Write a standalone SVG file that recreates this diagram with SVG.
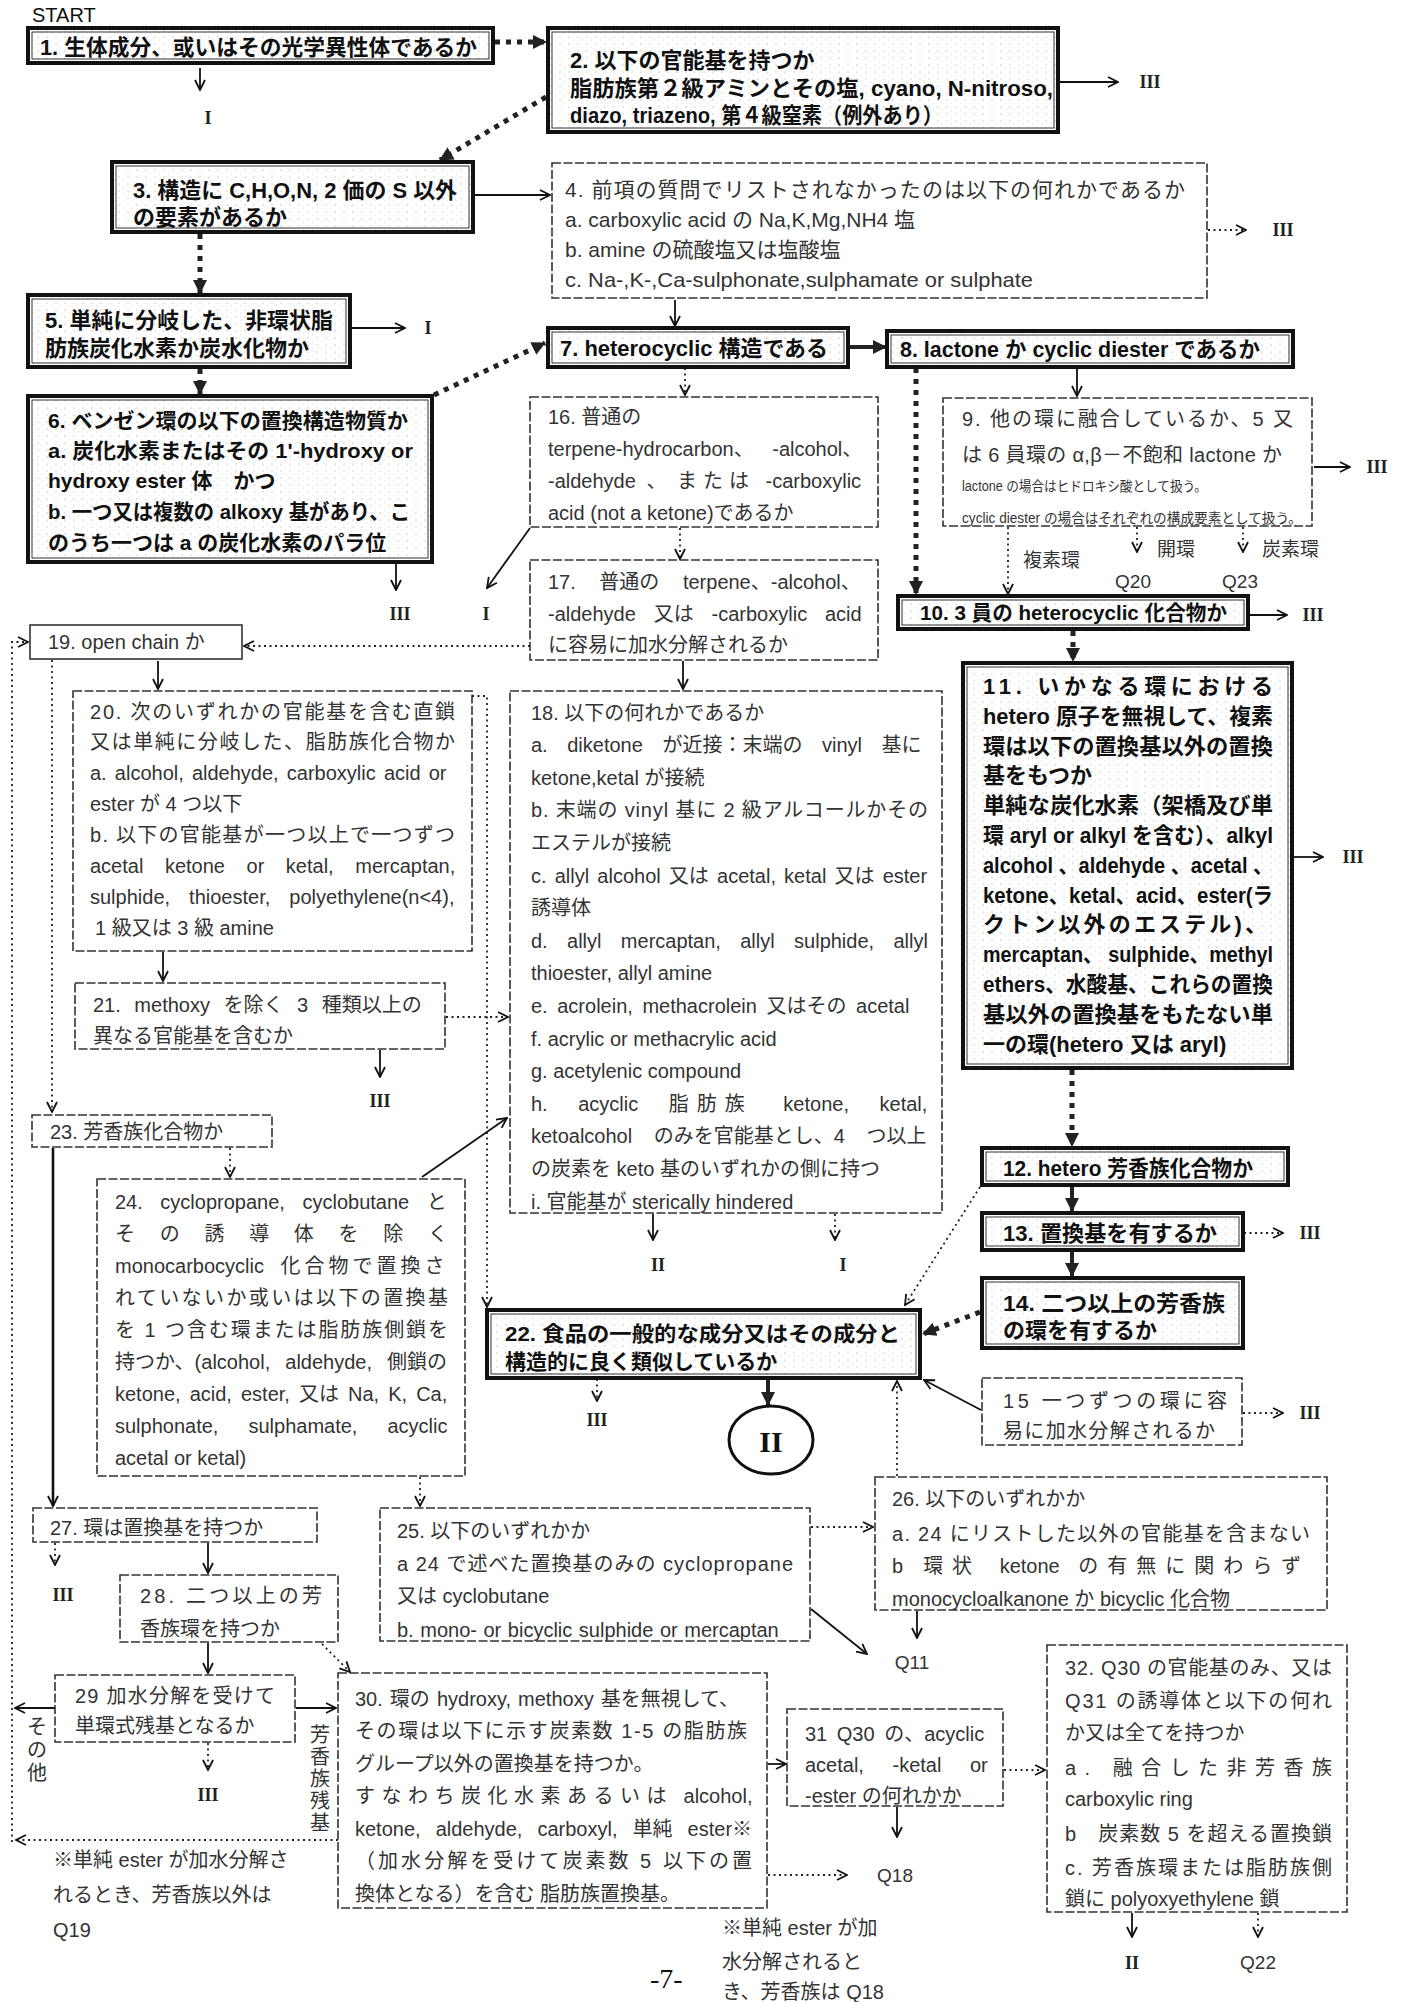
<svg xmlns="http://www.w3.org/2000/svg" width="1404" height="2002" viewBox="0 0 1404 2002">
<defs>
<pattern id="stip" width="9" height="7" patternUnits="userSpaceOnUse"><rect width="9" height="7" fill="#fff"/><circle cx="2" cy="2" r="0.55" fill="#999"/><circle cx="6.5" cy="5" r="0.45" fill="#bbb"/></pattern>
<marker id="ao" viewBox="0 0 12 12" refX="11" refY="6" markerWidth="12" markerHeight="12" orient="auto" markerUnits="userSpaceOnUse"><path d="M1,1 L11,6 L1,11" fill="none" stroke="#111" stroke-width="1.8"/></marker>
<marker id="at" viewBox="0 0 14 14" refX="13" refY="7" markerWidth="14" markerHeight="14" orient="auto" markerUnits="userSpaceOnUse"><path d="M0,0 L14,7 L0,14 z" fill="#222"/></marker>
</defs>
<style>
.k{fill:url(#stip);stroke:#111;stroke-width:4}
.ki{fill:none;stroke:#333;stroke-width:1}
.d{fill:#fff;stroke:#333;stroke-width:1.6;stroke-dasharray:9 2.5}
.tk{font-family:"Liberation Sans","Noto Sans CJK JP",sans-serif;font-size:22px;font-weight:bold;fill:#111}
.tn{font-family:"Liberation Sans","Noto Sans CJK JP",sans-serif;font-size:20px;fill:#333}
.ts{font-family:"Liberation Sans","Noto Sans CJK JP",sans-serif;font-size:14px;fill:#333}
.rn{font-family:"Liberation Serif","Noto Serif CJK JP",serif;font-size:18px;font-weight:bold;fill:#222;text-anchor:middle}
.lb{font-family:"Liberation Sans","Noto Sans CJK JP",sans-serif;font-size:19px;fill:#333}
.cs{fill:none;stroke:#111;stroke-width:1.8;marker-end:url(#ao)}
.cd{fill:none;stroke:#222;stroke-width:1.8;stroke-dasharray:2 3.5;marker-end:url(#ao)}
.ch{fill:none;stroke:#222;stroke-width:5;stroke-dasharray:5 6;marker-end:url(#at)}
.cH{fill:none;stroke:#222;stroke-width:4;marker-end:url(#at)}
</style>
<rect width="1404" height="2002" fill="#fff"/>

<text x="32" y="22" style="font-family:'Liberation Sans',sans-serif;font-size:20px;fill:#111">START</text>

<g id="connectors">
<path class="ch" d="M495,42 H546"/>
<path class="ch" d="M546,97 L440,160"/>
<path class="ch" d="M200,234 V293"/>
<path class="ch" d="M200,369 V394"/>
<path class="ch" d="M434,395 L545,343"/>
<path class="cH" d="M849,347 H886"/>
<path class="ch" d="M916,368 V594"/>
<path class="ch" d="M1073,631 V661"/>
<path class="ch" d="M1072,1070 V1146"/>
<path class="cH" d="M1072,1187 V1211"/>
<path class="cH" d="M1072,1252 V1276"/>
<path class="ch" d="M980,1312 L923,1334"/>
<path class="cH" d="M768,1380 V1405"/>

<path class="cs" d="M200,68 V90"/>
<path class="cs" d="M1060,82 H1118"/>
<path class="cs" d="M475,195 H550"/>
<path class="cs" d="M675,300 V326"/>
<path class="cs" d="M352,328 H405"/>
<path class="cs" d="M1077,369 V396"/>
<path class="cs" d="M1314,467 H1350"/>
<path class="cs" d="M1250,615 H1287"/>
<path class="cs" d="M1294,857 H1323"/>
<path class="cs" d="M396,564 V590"/>
<path class="cs" d="M530,528 L487,588"/>
<path class="cs" d="M683,661 V689"/>
<path class="cs" d="M158,661 V689"/>
<path class="cs" d="M163,952 V981"/>
<path class="cs" d="M380,1050 V1077"/>
<path class="cs" d="M422,1177 L507,1118"/>
<path class="cs" d="M653,1214 V1240"/>
<path class="cs" d="M53,1148 V1506" style="stroke-width:2.6"/>
<path class="cs" d="M208,1543 V1573"/>
<path class="cs" d="M208,1643 V1673"/>
<path class="cs" d="M55,1708 H15"/>
<path class="cs" d="M296,1708 H336"/>
<path class="cs" d="M811,1609 L867,1654"/>
<path class="cs" d="M917,1611 V1638"/>
<path class="cs" d="M768,1764 H786"/>
<path class="cs" d="M897,1807 V1837"/>
<path class="cs" d="M981,1410 L924,1380"/>
<path class="cs" d="M1132,1913 V1937"/>

<path class="cd" d="M1208,230 H1246"/>
<path class="cd" d="M685,368 V395"/>
<path class="cd" d="M1008,527 V594"/>
<path class="cd" d="M1137,527 V552"/>
<path class="cd" d="M1243,527 V552"/>
<path class="cd" d="M680,528 V559"/>
<path class="cd" d="M530,646 H244"/>
<path class="cd" d="M12,1842 V642 H28"/>
<path class="cd" d="M52,660 V1112"/>
<path class="cd" d="M472,696 H487 V1307"/>
<path class="cd" d="M446,1017 H508"/>
<path class="cd" d="M230,1148 V1177"/>
<path class="cd" d="M420,1477 V1506"/>
<path class="cd" d="M835,1214 V1240"/>
<path class="cd" d="M980,1187 L905,1305"/>
<path class="cd" d="M1244,1233 H1283"/>
<path class="cd" d="M1243,1413 H1283"/>
<path class="cd" d="M597,1379 V1401"/>
<path class="cd" d="M897,1476 V1381"/>
<path class="cd" d="M811,1527 H873"/>
<path class="cd" d="M55,1543 V1565"/>
<path class="cd" d="M322,1644 L350,1672"/>
<path class="cd" d="M208,1743 V1770"/>
<path class="cd" d="M338,1840 H16"/>
<path class="cd" d="M768,1875 H847"/>
<path class="cd" d="M1004,1770 H1045"/>
<path class="cd" d="M1258,1913 V1937"/>
</g>

<g id="labels">
<text class="rn" x="208" y="124">I</text>
<text class="rn" x="1150" y="88">III</text>
<text class="rn" x="1283" y="236">III</text>
<text class="rn" x="428" y="334">I</text>
<text class="rn" x="400" y="620">III</text>
<text class="rn" x="486" y="620">I</text>
<text class="rn" x="1377" y="473">III</text>
<text class="rn" x="1313" y="621">III</text>
<text class="rn" x="1353" y="863">III</text>
<text class="rn" x="380" y="1107">III</text>
<text class="rn" x="658" y="1271">II</text>
<text class="rn" x="843" y="1271">I</text>
<text class="rn" x="597" y="1426">III</text>
<text class="rn" x="1310" y="1239">III</text>
<text class="rn" x="1310" y="1419">III</text>
<text class="rn" x="63" y="1601">III</text>
<text class="rn" x="208" y="1801">III</text>
<text class="rn" x="1132" y="1969">II</text>
<text class="lb" x="1023" y="567">複素環</text>
<text class="lb" x="1157" y="556">開環</text>
<text class="lb" x="1262" y="556">炭素環</text>
<text class="lb" x="1133" y="588" text-anchor="middle">Q20</text>
<text class="lb" x="1240" y="588" text-anchor="middle">Q23</text>
<text class="lb" x="912" y="1669" text-anchor="middle">Q11</text>
<text class="lb" x="895" y="1882" text-anchor="middle">Q18</text>
<text class="lb" x="1258" y="1969" text-anchor="middle">Q22</text>
<text class="tn"><tspan x="27" y="1734">そ</tspan><tspan x="27" y="1757">の</tspan><tspan x="27" y="1780">他</tspan></text>
<text class="tn"><tspan x="310" y="1742">芳</tspan><tspan x="310" y="1764">香</tspan><tspan x="310" y="1786">族</tspan><tspan x="310" y="1808">残</tspan><tspan x="310" y="1830">基</tspan></text>
<text class="tn"><tspan x="53" y="1867">※単純 ester が加水分解さ</tspan><tspan x="53" y="1902">れるとき、芳香族以外は</tspan><tspan x="53" y="1937">Q19</tspan></text>
<text class="tn"><tspan x="722" y="1935">※単純 ester が加</tspan><tspan x="722" y="1969">水分解されると</tspan><tspan x="722" y="1999">き、芳香族は Q18</tspan></text>
<text x="650" y="1988" style="font-family:'Liberation Serif',serif;font-size:28px;fill:#111">-7-</text>
</g>

<g id="n1"><rect class="k" x="28" y="28" width="465" height="35"/><rect class="ki" x="32" y="32" width="457" height="27"/>
<text class="tk" x="40" y="55" textLength="437" lengthAdjust="spacingAndGlyphs">1. 生体成分、或いはその光学異性体であるか</text></g>

<g id="n2"><rect class="k" x="548" y="28" width="510" height="104"/><rect class="ki" x="552" y="32" width="502" height="96"/>
<text class="tk" x="570" y="68">2. 以下の官能基を持つか</text>
<text class="tk" x="570" y="96" textLength="483" lengthAdjust="spacingAndGlyphs">脂肪族第２級アミンとその塩, cyano, N-nitroso,</text>
<text class="tk" x="570" y="123" textLength="373" lengthAdjust="spacingAndGlyphs">diazo, triazeno, 第４級窒素（例外あり）</text></g>

<g id="n3"><rect class="k" x="112" y="162" width="361" height="70"/><rect class="ki" x="116" y="166" width="353" height="62"/>
<text class="tk" x="133" y="198" textLength="324" lengthAdjust="spacingAndGlyphs">3. 構造に C,H,O,N, 2 価の S 以外</text>
<text class="tk" x="133" y="225">の要素があるか</text></g>

<g id="n4"><rect class="d" x="552" y="163" width="655" height="135"/>
<text class="tn" style="font-size:21px" x="565" y="197" textLength="620" lengthAdjust="spacing">4. 前項の質問でリストされなかったのは以下の何れかであるか</text>
<text class="tn" style="font-size:21px" x="565" y="227">a. carboxylic acid の Na,K,Mg,NH4 塩</text>
<text class="tn" style="font-size:21px" x="565" y="257">b. amine の硫酸塩又は塩酸塩</text>
<text class="tn" style="font-size:21px" x="565" y="287" textLength="468" lengthAdjust="spacingAndGlyphs">c. Na-,K-,Ca-sulphonate,sulphamate or sulphate</text></g>

<g id="n5"><rect class="k" x="28" y="295" width="322" height="72"/><rect class="ki" x="32" y="299" width="314" height="64"/>
<text class="tk" x="45" y="328" textLength="288" lengthAdjust="spacingAndGlyphs">5. 単純に分岐した、非環状脂</text>
<text class="tk" x="45" y="356">肪族炭化水素か炭水化物か</text></g>

<g id="n6"><rect class="k" x="28" y="396" width="404" height="166"/><rect class="ki" x="32" y="400" width="396" height="158"/>
<text class="tk" style="font-size:21px" x="48" y="428" textLength="360" lengthAdjust="spacingAndGlyphs">6. ベンゼン環の以下の置換構造物質か</text>
<text class="tk" style="font-size:21px" x="48" y="458" textLength="365" lengthAdjust="spacingAndGlyphs">a. 炭化水素またはその 1'-hydroxy or</text>
<text class="tk" style="font-size:21px" x="48" y="488">hydroxy ester 体　かつ</text>
<text class="tk" style="font-size:21px" x="48" y="519" textLength="362" lengthAdjust="spacingAndGlyphs">b. 一つ又は複数の alkoxy 基があり、こ</text>
<text class="tk" style="font-size:21px" x="48" y="550">のうち一つは a の炭化水素のパラ位</text></g>

<g id="n7"><rect class="k" x="548" y="328" width="300" height="39"/><rect class="ki" x="552" y="332" width="292" height="31"/>
<text class="tk" x="560" y="356" textLength="268" lengthAdjust="spacingAndGlyphs">7. heterocyclic 構造である</text></g>

<g id="n8"><rect class="k" x="887" y="331" width="406" height="36"/><rect class="ki" x="891" y="335" width="398" height="28"/>
<text class="tk" x="900" y="357" textLength="360" lengthAdjust="spacingAndGlyphs">8. lactone か cyclic diester であるか</text></g>

<g id="n9"><rect class="d" x="943" y="398" width="369" height="128"/>
<text class="tn" x="962" y="426" textLength="331" lengthAdjust="spacing">9. 他の環に融合しているか、5 又</text>
<text class="tn" x="962" y="462" textLength="320" lengthAdjust="spacing">は 6 員環の α,β－不飽和 lactone か</text>
<text class="ts" x="962" y="491" textLength="245" lengthAdjust="spacingAndGlyphs">lactone の場合はヒドロキシ酸として扱う。</text>
<text class="ts" x="962" y="523" textLength="340" lengthAdjust="spacingAndGlyphs">cyclic diester の場合はそれぞれの構成要素として扱う。</text></g>

<g id="n10"><rect class="k" x="898" y="596" width="350" height="33"/><rect class="ki" x="902" y="600" width="342" height="25"/>
<text class="tk" style="font-size:21px" x="920" y="620" textLength="307" lengthAdjust="spacingAndGlyphs">10. 3 員の heterocyclic 化合物か</text></g>

<g id="n11"><rect class="k" x="963" y="663" width="329" height="405"/><rect class="ki" x="967" y="667" width="321" height="397"/>
<text class="tk" x="983" y="694" textLength="290" lengthAdjust="spacing">11. いかなる環における</text>
<text class="tk" x="983" y="724" textLength="290" lengthAdjust="spacingAndGlyphs">hetero 原子を無視して、複素</text>
<text class="tk" x="983" y="754" textLength="290" lengthAdjust="spacingAndGlyphs">環は以下の置換基以外の置換</text>
<text class="tk" x="983" y="783">基をもつか</text>
<text class="tk" x="983" y="813" textLength="290" lengthAdjust="spacingAndGlyphs">単純な炭化水素（架橋及び単</text>
<text class="tk" x="983" y="843" textLength="290" lengthAdjust="spacingAndGlyphs">環 aryl or alkyl を含む）、alkyl</text>
<text class="tk" x="983" y="873" textLength="290" lengthAdjust="spacingAndGlyphs">alcohol 、aldehyde 、acetal 、</text>
<text class="tk" x="983" y="903" textLength="290" lengthAdjust="spacingAndGlyphs">ketone、ketal、acid、ester(ラ</text>
<text class="tk" x="983" y="932" textLength="284" lengthAdjust="spacing">クトン以外のエステル)、</text>
<text class="tk" x="983" y="962" textLength="290" lengthAdjust="spacingAndGlyphs">mercaptan、 sulphide、methyl</text>
<text class="tk" x="983" y="992" textLength="290" lengthAdjust="spacingAndGlyphs">ethers、水酸基、これらの置換</text>
<text class="tk" x="983" y="1022" textLength="290" lengthAdjust="spacingAndGlyphs">基以外の置換基をもたない単</text>
<text class="tk" x="983" y="1052">一の環(hetero 又は aryl)</text></g>

<g id="n12"><rect class="k" x="982" y="1148" width="306" height="37"/><rect class="ki" x="986" y="1152" width="298" height="29"/>
<text class="tk" x="1003" y="1176" textLength="250" lengthAdjust="spacingAndGlyphs">12. hetero 芳香族化合物か</text></g>

<g id="n13"><rect class="k" x="982" y="1213" width="261" height="37"/><rect class="ki" x="986" y="1217" width="253" height="29"/>
<text class="tk" x="1003" y="1241" textLength="214" lengthAdjust="spacingAndGlyphs">13. 置換基を有するか</text></g>

<g id="n14"><rect class="k" x="982" y="1278" width="261" height="70"/><rect class="ki" x="986" y="1282" width="253" height="62"/>
<text class="tk" x="1003" y="1311" textLength="222" lengthAdjust="spacingAndGlyphs">14. 二つ以上の芳香族</text>
<text class="tk" x="1003" y="1338">の環を有するか</text></g>

<g id="n15"><rect class="d" x="982" y="1378" width="260" height="67"/>
<text class="tn" x="1003" y="1408" textLength="224" lengthAdjust="spacing">15 一つずつの環に容</text>
<text class="tn" x="1003" y="1438" textLength="212" lengthAdjust="spacing">易に加水分解されるか</text></g>

<g id="n16"><rect class="d" x="530" y="397" width="348" height="130"/>
<text class="tn" x="548" y="424">16. 普通の</text>
<text class="tn" x="548" y="456" word-spacing="13">terpene-hydrocarbon、 -alcohol、</text>
<text class="tn" x="548" y="488" word-spacing="5">-aldehyde 、 <tspan letter-spacing="6">または</tspan> -carboxylic</text>
<text class="tn" x="548" y="520">acid (not a ketone)であるか</text></g>

<g id="n17"><rect class="d" x="530" y="560" width="348" height="100"/>
<text class="tn" x="548" y="589" word-spacing="18">17. 普通の terpene、-alcohol、</text>
<text class="tn" x="548" y="621" word-spacing="12.3">-aldehyde 又は -carboxylic acid</text>
<text class="tn" x="548" y="652">に容易に加水分解されるか</text></g>

<g id="n18"><rect class="d" x="510" y="691" width="432" height="522"/>
<text class="tn" x="531" y="719.5">18. 以下の何れかであるか</text>
<text class="tn" x="531" y="752.1" word-spacing="14">a. diketone が近接：末端の vinyl 基に</text>
<text class="tn" x="531" y="784.7">ketone,ketal が接続</text>
<text class="tn" x="531" y="817.3" textLength="397" lengthAdjust="spacing">b. 末端の vinyl 基に 2 級アルコールかその</text>
<text class="tn" x="531" y="849.9">エステルが接続</text>
<text class="tn" x="531" y="882.5" word-spacing="2.6">c. allyl alcohol 又は acetal, ketal 又は ester</text>
<text class="tn" x="531" y="915.1">誘導体</text>
<text class="tn" x="531" y="947.7" word-spacing="13.8">d. allyl mercaptan, allyl sulphide, allyl</text>
<text class="tn" x="531" y="980.3">thioester, allyl amine</text>
<text class="tn" x="531" y="1012.9" word-spacing="4">e. acrolein, methacrolein 又はその acetal</text>
<text class="tn" x="531" y="1045.5">f. acrylic or methacrylic acid</text>
<text class="tn" x="531" y="1078.1">g. acetylenic compound</text>
<text class="tn" x="531" y="1110.7" word-spacing="25">h. acyclic <tspan letter-spacing="8">脂肪族</tspan> ketone, ketal,</text>
<text class="tn" x="531" y="1143.3" word-spacing="16">ketoalcohol のみを官能基とし、4 つ以上</text>
<text class="tn" x="531" y="1175.9">の炭素を keto 基のいずれかの側に持つ</text>
<text class="tn" x="531" y="1208.5">i. 官能基が sterically hindered</text></g>

<g id="n19"><rect class="d" x="30" y="625" width="212" height="34" style="stroke-dasharray:none"/>
<text class="tn" x="48" y="649">19. open chain か</text></g>

<g id="n20"><rect class="d" x="73" y="691" width="399" height="260"/>
<text class="tn" x="90" y="718.5" textLength="365" lengthAdjust="spacing">20. 次のいずれかの官能基を含む直鎖</text>
<text class="tn" x="90" y="749.4" textLength="365" lengthAdjust="spacing">又は単純に分岐した、脂肪族化合物か</text>
<text class="tn" x="90" y="780.2" word-spacing="2.6">a. alcohol, aldehyde, carboxylic acid or</text>
<text class="tn" x="90" y="811">ester が 4 つ以下</text>
<text class="tn" x="90" y="841.9" textLength="365" lengthAdjust="spacing">b. 以下の官能基が一つ以上で一つずつ</text>
<text class="tn" x="90" y="872.8" word-spacing="16">acetal ketone or ketal, mercaptan,</text>
<text class="tn" x="90" y="903.6" word-spacing="13.5">sulphide, thioester, polyethylene(n&lt;4),</text>
<text class="tn" x="95" y="934.5">1 級又は 3 級 amine</text></g>

<g id="n21"><rect class="d" x="75" y="983" width="370" height="66"/>
<text class="tn" x="93" y="1012" word-spacing="8">21. methoxy を除く 3 種類以上の</text>
<text class="tn" x="93" y="1043">異なる官能基を含むか</text></g>

<g id="n22"><rect class="k" x="487" y="1310" width="433" height="68"/><rect class="ki" x="491" y="1314" width="425" height="60"/>
<text class="tk" style="font-size:21px" x="505" y="1341" textLength="395" lengthAdjust="spacingAndGlyphs">22. 食品の一般的な成分又はその成分と</text>
<text class="tk" style="font-size:21px" x="505" y="1369">構造的に良く類似しているか</text></g>

<g id="nII"><ellipse cx="771" cy="1440" rx="42" ry="34" fill="#fff" stroke="#111" stroke-width="3"/>
<text x="771" y="1452" text-anchor="middle" style="font-family:'Liberation Serif',serif;font-size:30px;font-weight:bold;fill:#111">II</text></g>

<g id="n23"><rect class="d" x="32" y="1115" width="240" height="32"/>
<text class="tn" x="50" y="1139">23. 芳香族化合物か</text></g>

<g id="n24"><rect class="d" x="97" y="1179" width="368" height="297"/>
<text class="tn" x="115" y="1208.5" word-spacing="12">24. cyclopropane, cyclobutane と</text>
<text class="tn" x="115" y="1240.6" textLength="333" lengthAdjust="spacing">その誘導体を除く</text>
<text class="tn" x="115" y="1272.7" word-spacing="11">monocarbocyclic <tspan letter-spacing="4">化合物で置換さ</tspan></text>
<text class="tn" x="115" y="1304.8" textLength="333" lengthAdjust="spacing">れていないか或いは以下の置換基</text>
<text class="tn" x="115" y="1336.9" textLength="333" lengthAdjust="spacing">を 1 つ含む環または脂肪族側鎖を</text>
<text class="tn" x="115" y="1369" word-spacing="9.5">持つか、(alcohol, aldehyde, 側鎖の</text>
<text class="tn" x="115" y="1401.1" word-spacing="3.5">ketone, acid, ester, 又は Na, K, Ca,</text>
<text class="tn" x="115" y="1433.2" word-spacing="24.5">sulphonate, sulphamate, acyclic</text>
<text class="tn" x="115" y="1465.3">acetal or ketal)</text></g>

<g id="n25"><rect class="d" x="380" y="1508" width="430" height="133"/>
<text class="tn" x="397" y="1538">25. 以下のいずれかか</text>
<text class="tn" x="397" y="1571" textLength="396" lengthAdjust="spacing">a 24 で述べた置換基のみの cyclopropane</text>
<text class="tn" x="397" y="1603">又は cyclobutane</text>
<text class="tn" x="397" y="1637" word-spacing="1">b. mono- or bicyclic sulphide or mercaptan</text></g>

<g id="n26"><rect class="d" x="875" y="1477" width="452" height="133"/>
<text class="tn" x="892" y="1506">26. 以下のいずれかか</text>
<text class="tn" x="892" y="1541" textLength="418" lengthAdjust="spacing">a. 24 にリストした以外の官能基を含まない</text>
<text class="tn" x="892" y="1573" word-spacing="13">b　<tspan letter-spacing="9">環状</tspan> ketone <tspan letter-spacing="9">の有無に関わらず</tspan></text>
<text class="tn" x="892" y="1606">monocycloalkanone か bicyclic 化合物</text></g>

<g id="n27"><rect class="d" x="33" y="1508" width="284" height="34"/>
<text class="tn" x="50" y="1535">27. 環は置換基を持つか</text></g>

<g id="n28"><rect class="d" x="120" y="1575" width="218" height="67"/>
<text class="tn" x="140" y="1603" textLength="182" lengthAdjust="spacing">28. 二つ以上の芳</text>
<text class="tn" x="140" y="1636">香族環を持つか</text></g>

<g id="n29"><rect class="d" x="55" y="1675" width="240" height="67"/>
<text class="tn" x="75" y="1703" textLength="200" lengthAdjust="spacing">29 加水分解を受けて</text>
<text class="tn" x="75" y="1733">単環式残基となるか</text></g>

<g id="n30"><rect class="d" x="338" y="1673" width="429" height="235"/>
<text class="tn" x="355" y="1705.5" word-spacing="1.5">30. 環の hydroxy, methoxy 基を無視して、</text>
<text class="tn" x="355" y="1738" textLength="392" lengthAdjust="spacing">その環は以下に示す炭素数 1-5 の脂肪族</text>
<text class="tn" x="355" y="1770.5">グループ以外の置換基を持つか。</text>
<text class="tn" x="355" y="1803" word-spacing="5"><tspan letter-spacing="6.5">すなわち炭化水素あるいは</tspan> alcohol,</text>
<text class="tn" x="355" y="1835.5" word-spacing="9.5">ketone, aldehyde, carboxyl, 単純 ester※</text>
<text class="tn" x="355" y="1868" textLength="397" lengthAdjust="spacing">（加水分解を受けて炭素数 5 以下の置</text>
<text class="tn" x="355" y="1900.5">換体となる）を含む 脂肪族置換基。</text></g>

<g id="n31"><rect class="d" x="787" y="1709" width="216" height="97"/>
<text class="tn" x="805" y="1741" word-spacing="4">31 Q30 の、acyclic</text>
<text class="tn" x="805" y="1772" word-spacing="23">acetal, -ketal or</text>
<text class="tn" x="805" y="1803">-ester の何れかか</text></g>

<g id="n32"><rect class="d" x="1047" y="1645" width="300" height="267"/>
<text class="tn" x="1065" y="1674.5" textLength="267" lengthAdjust="spacing">32. Q30 の官能基のみ、又は</text>
<text class="tn" x="1065" y="1707.5" textLength="267" lengthAdjust="spacing">Q31 の誘導体と以下の何れ</text>
<text class="tn" x="1065" y="1739.5">か又は全てを持つか</text>
<text class="tn" x="1065" y="1774.5" textLength="267" lengthAdjust="spacing">a. 融合した非芳香族</text>
<text class="tn" x="1065" y="1805.5">carboxylic ring</text>
<text class="tn" x="1065" y="1840.5" textLength="267" lengthAdjust="spacing">b　炭素数 5 を超える置換鎖</text>
<text class="tn" x="1065" y="1874.5" textLength="267" lengthAdjust="spacing">c. 芳香族環または脂肪族側</text>
<text class="tn" x="1065" y="1905.5">鎖に polyoxyethylene 鎖</text></g>
</svg>
